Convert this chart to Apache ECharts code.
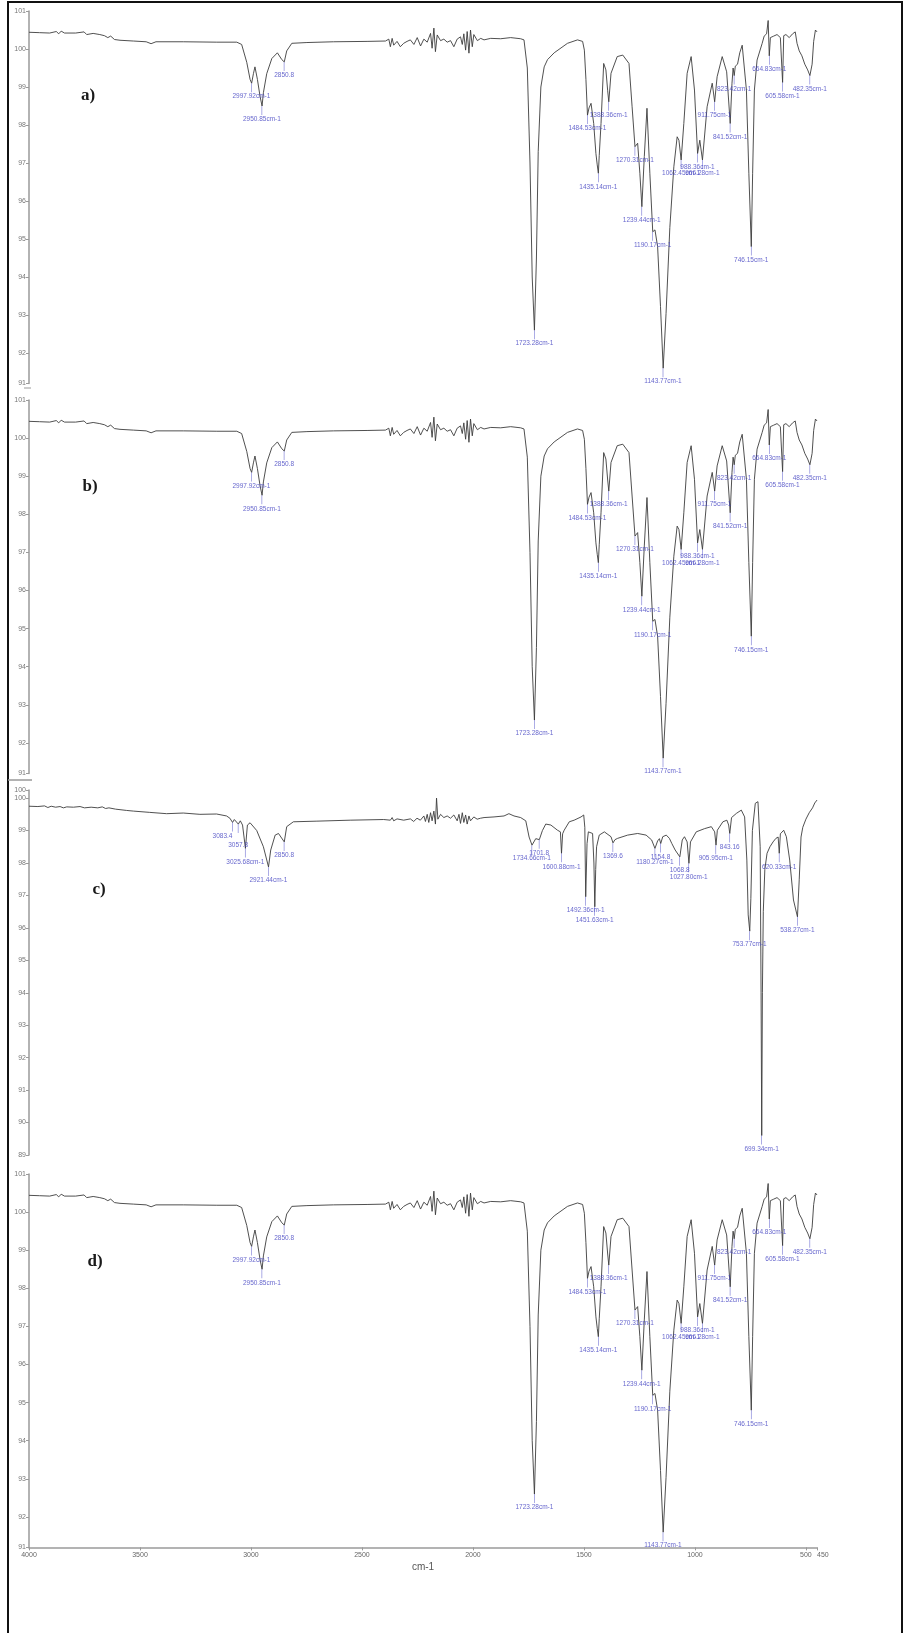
<!DOCTYPE html>
<html>
<head>
<meta charset="utf-8">
<title>FTIR spectra a-d</title>
<script src="https://cdn.jsdelivr.net/npm/echarts@6/dist/echarts.min.js"></script>
<style>
  html, body { margin: 0; padding: 0; background: #fff; }
  #chart { width: 905px; height: 1633px; }
</style>
</head>
<body>
<div id="chart"></div>
<script>
// panel letters, top to bottom
var panelNames = ['a)', 'b)', 'c)', 'd)'];

// spectrum of a), b) and d): [wavenumber cm-1, %T]
var pmmaSpectrum = [
  [4000, 100.44], [3952, 100.43], [3907, 100.42], [3877, 100.46], [3866, 100.40], [3855, 100.47],
  [3840, 100.42], [3790, 100.42], [3752, 100.45], [3740, 100.38], [3711, 100.41], [3681, 100.38],
  [3660, 100.35], [3645, 100.30], [3632, 100.34], [3615, 100.25], [3590, 100.23], [3530, 100.21],
  [3472, 100.19], [3450, 100.14], [3428, 100.19], [3305, 100.19], [3154, 100.18], [3064, 100.18],
  [3042, 100.12], [3019, 99.65], [3004, 99.20], [2997, 99.10], [2989, 99.35], [2982, 99.53],
  [2971, 99.20], [2959, 98.75], [2950, 98.50], [2944, 98.85], [2929, 99.35], [2906, 99.75],
  [2881, 99.90], [2861, 99.72], [2850, 99.66], [2839, 99.95], [2816, 100.15], [2748, 100.17],
  [2628, 100.19], [2477, 100.20], [2394, 100.21],
  [2387, 100.19], [2379, 100.26], [2372, 100.06], [2364, 100.28], [2357, 100.10], [2342, 100.20],
  [2327, 100.06], [2312, 100.15], [2297, 100.20], [2282, 100.24], [2266, 100.12], [2251, 100.30],
  [2236, 100.08], [2221, 100.26], [2206, 100.18], [2191, 100.41], [2184, 100.02], [2176, 100.55],
  [2169, 99.93], [2161, 100.37], [2146, 100.22], [2131, 100.26], [2116, 100.18], [2101, 100.22],
  [2086, 100.06], [2071, 100.26], [2056, 100.32], [2048, 100.12], [2041, 100.40], [2033, 99.97],
  [2026, 100.46], [2018, 99.89], [2011, 100.50], [2003, 100.06], [1996, 100.38], [1980, 100.22],
  [1965, 100.28], [1950, 100.24], [1920, 100.28], [1875, 100.27], [1830, 100.30], [1785, 100.27],
  [1770, 100.24], [1755, 99.50], [1743, 97.00], [1733, 94.00], [1723, 92.60], [1714, 94.50],
  [1706, 97.30], [1694, 99.00], [1679, 99.53], [1664, 99.72], [1634, 99.90], [1574, 100.15],
  [1529, 100.24], [1506, 100.20], [1498, 99.97], [1491, 99.20], [1484, 98.26], [1477, 98.45],
  [1468, 98.57], [1456, 98.04], [1446, 97.25], [1440, 96.95], [1435, 96.73], [1431, 97.20],
  [1423, 98.04], [1411, 99.62], [1401, 99.45], [1393, 98.90], [1388, 98.61], [1378, 99.36],
  [1350, 99.80], [1325, 99.84], [1297, 99.62], [1283, 98.48], [1270, 97.43], [1258, 97.52],
  [1248, 96.73], [1239, 95.85], [1228, 97.17], [1216, 98.44], [1203, 96.73], [1190, 95.19],
  [1180, 95.24], [1168, 94.80], [1155, 93.22], [1143, 91.60], [1130, 93.04], [1113, 95.30],
  [1095, 96.90], [1080, 97.69], [1072, 97.60], [1062, 97.08], [1050, 98.04], [1035, 99.36],
  [1017, 99.80], [1002, 98.92], [988, 97.25], [978, 97.60], [966, 97.08], [945, 98.48],
  [922, 99.10], [911, 98.61], [900, 99.27], [877, 99.80], [857, 99.40], [841, 98.04],
  [833, 99.10], [828, 99.50], [823, 99.30], [818, 99.55], [808, 99.60], [798, 99.90],
  [787, 100.10], [768, 98.92], [757, 96.73], [746, 94.80], [740, 96.73], [732, 98.92],
  [720, 99.71], [697, 100.15], [688, 100.34], [677, 100.40], [670, 100.75], [665, 99.82],
  [660, 100.30], [645, 100.34], [630, 100.38], [615, 100.30], [608, 100.35], [605, 99.12],
  [600, 100.35], [590, 100.38], [575, 100.30], [560, 100.40], [548, 100.45], [540, 100.15],
  [530, 99.95], [518, 99.82], [505, 99.60], [492, 99.45], [482, 99.30], [472, 99.60],
  [465, 100.20], [457, 100.50], [450, 100.45]
];
var pmmaPeakWave = [2997.92, 2950.85, 2850.8, 1723.28, 1484.53, 1435.14, 1388.36, 1270.31, 1239.44,
  1190.17, 1143.77, 1062.45, 988.36, 966.28, 911.75, 841.52, 823.42, 746.15, 664.83, 605.58, 482.35];
var pmmaPeakText = ['2997.92cm-1', '2950.85cm-1', '2850.8', '1723.28cm-1', '1484.53cm-1', '1435.14cm-1',
  '1388.36cm-1', '1270.31cm-1', '1239.44cm-1', '1190.17cm-1', '1143.77cm-1', '1062.45cm-1', '988.36cm-1',
  '966.28cm-1', '911.75cm-1', '841.52cm-1', '823.42cm-1', '746.15cm-1', '664.83cm-1', '605.58cm-1', '482.35cm-1'];

// spectrum of c)
var psSpectrum = [
  [4000, 99.75], [3960, 99.74], [3930, 99.76], [3915, 99.71], [3900, 99.75], [3880, 99.72],
  [3860, 99.74], [3845, 99.70], [3830, 99.73], [3800, 99.72], [3770, 99.74], [3750, 99.70],
  [3720, 99.72], [3690, 99.70], [3670, 99.73], [3655, 99.68], [3640, 99.70], [3610, 99.66],
  [3560, 99.62], [3530, 99.60], [3456, 99.56], [3380, 99.52], [3305, 99.54], [3230, 99.50],
  [3155, 99.51], [3110, 99.45], [3095, 99.38], [3083, 99.25], [3075, 99.34], [3066, 99.30],
  [3057, 99.20], [3048, 99.30], [3038, 99.17], [3025, 98.45], [3016, 99.17], [3004, 99.24],
  [2974, 99.00], [2944, 98.50], [2921, 97.88], [2911, 98.40], [2891, 98.86], [2876, 98.91],
  [2850, 98.65], [2839, 99.12], [2809, 99.27], [2703, 99.29], [2553, 99.32], [2402, 99.34],
  [2372, 99.32], [2364, 99.40], [2357, 99.30], [2342, 99.36], [2312, 99.32], [2282, 99.36],
  [2267, 99.28], [2252, 99.38], [2237, 99.32], [2221, 99.45], [2214, 99.28], [2206, 99.50],
  [2199, 99.25], [2191, 99.55], [2184, 99.30], [2176, 99.60], [2169, 99.20], [2164, 100.00],
  [2158, 99.35], [2146, 99.50], [2131, 99.40], [2116, 99.45], [2101, 99.38], [2086, 99.48],
  [2071, 99.30], [2063, 99.50], [2056, 99.22], [2048, 99.55], [2041, 99.25], [2033, 99.48],
  [2026, 99.20], [2018, 99.45], [2011, 99.30], [1996, 99.42], [1981, 99.35], [1966, 99.38],
  [1950, 99.40], [1905, 99.42], [1860, 99.45], [1838, 99.52], [1815, 99.45], [1785, 99.40],
  [1762, 99.30], [1747, 98.80], [1734, 98.55], [1717, 98.75], [1701, 98.72], [1687, 99.00],
  [1672, 99.20], [1649, 99.17], [1619, 99.01], [1606, 98.96], [1601, 98.30], [1596, 98.90],
  [1589, 99.01], [1583, 98.95], [1566, 99.27], [1544, 99.32], [1513, 99.42], [1501, 99.48],
  [1496, 99.10], [1492, 96.96], [1486, 98.60], [1480, 98.96], [1471, 99.01], [1461, 98.91],
  [1455, 98.00], [1451, 96.65], [1447, 97.80], [1443, 98.50], [1431, 98.86], [1408, 98.96],
  [1378, 98.81], [1369, 98.62], [1360, 98.72], [1348, 98.76], [1303, 98.86], [1258, 98.91],
  [1220, 98.86], [1195, 98.71], [1180, 98.45], [1168, 98.68], [1160, 98.75], [1154, 98.60],
  [1145, 98.81], [1129, 98.86], [1115, 98.76], [1104, 98.60], [1089, 98.40], [1068, 98.19],
  [1057, 98.71], [1047, 98.81], [1035, 98.65], [1027, 97.99], [1020, 98.65], [994, 98.96],
  [956, 99.06], [926, 99.12], [911, 98.96], [905, 98.55], [899, 99.01], [874, 99.27],
  [856, 99.32], [848, 99.17], [843, 98.91], [835, 99.40], [813, 99.53], [791, 99.63],
  [776, 99.42], [766, 98.09], [760, 96.40], [753, 95.90], [748, 96.90], [741, 99.00],
  [728, 99.84], [716, 99.89], [706, 98.50], [702, 94.00], [699, 89.60], [696, 94.00],
  [692, 96.50], [685, 97.80], [675, 98.30], [662, 98.50], [648, 98.65], [635, 98.76],
  [625, 98.80], [620, 98.30], [615, 98.90], [600, 99.01], [588, 98.81], [573, 98.09],
  [556, 96.86], [538, 96.34], [530, 97.50], [522, 98.80], [514, 99.10], [500, 99.35],
  [485, 99.55], [470, 99.70], [460, 99.85], [450, 99.94]
];
var psPeakWave = [3083.4, 3057.8, 3025.68, 2921.44, 2850.8, 1734.66, 1701.8, 1600.88, 1492.36, 1451.63,
  1369.6, 1180.27, 1154.8, 1068.8, 1027.80, 905.95, 843.16, 753.77, 699.34, 620.33, 538.27];
var psPeakText = ['3083.4', '3057.8', '3025.68cm-1', '2921.44cm-1', '2850.8', '1734.66cm-1', '1701.8',
  '1600.88cm-1', '1492.36cm-1', '1451.63cm-1', '1369.6', '1180.27cm-1', '1154.8', '1068.8', '1027.80cm-1',
  '905.95cm-1', '843.16', '753.77cm-1', '699.34cm-1', '620.33cm-1', '538.27cm-1'];

// layout of the four stacked plots (pixels) and their y ranges
var panels = [
  { top: 11, height: 372.4, min: 91.2, max: 101, split: 10, lx: 88, ly: 96 },
  { top: 400, height: 373.4, min: 91.2, max: 101, split: 10, lx: 90, ly: 487 },
  { top: 790, height: 365, min: 89, max: 100.25, split: 11, lx: 99, ly: 890 },
  { top: 1174, height: 373.4, min: 91.2, max: 101, split: 10, lx: 95, ly: 1262 }
];
var panelSpectra = [pmmaSpectrum, pmmaSpectrum, psSpectrum, pmmaSpectrum];
var panelPeakWave = [pmmaPeakWave, pmmaPeakWave, psPeakWave, pmmaPeakWave];
var panelPeakText = [pmmaPeakText, pmmaPeakText, psPeakText, pmmaPeakText];

// T of the curve point closest to a wavenumber
function curveAt(spectrum, w) {
  var best = spectrum[0];
  spectrum.forEach(function (p) {
    if (Math.abs(p[0] - w) < Math.abs(best[0] - w)) best = p;
  });
  return best[1];
}

// peak markers; two labels that would sit on top of each other get staggered
function peakPoints(waves, texts, spectrum) {
  var ts = waves.map(function (w) { return curveAt(spectrum, w); });
  return waves.map(function (w, i) {
    var item = { name: texts[i], value: [w, ts[i]] };
    var close = function (j) {
      return j >= 0 && j < waves.length && Math.abs(waves[j] - w) < 30 && Math.abs(ts[j] - ts[i]) < 0.1;
    };
    if (close(i + 1)) item.label = { align: 'right' };
    else if (close(i - 1)) item.label = { distance: 9 };
    return item;
  });
}

var grids = [], xAxes = [], yAxes = [], series = [], graphics = [];

panels.forEach(function (p, i) {
  var last = i === panels.length - 1;
  grids.push({ left: 29, width: 788, top: p.top, height: p.height });
  xAxes.push({
    type: 'value', gridIndex: i, min: 450, max: 4000, inverse: true, splitNumber: 7,
    show: last,
    name: 'cm-1', nameLocation: 'middle', nameGap: 15,
    nameTextStyle: { fontSize: 10, color: '#555', fontFamily: 'Liberation Sans' },
    axisLine: { lineStyle: { color: '#9a9a9a', width: 1.5 } },
    axisTick: { length: 3, lineStyle: { color: '#9a9a9a' } },
    axisLabel: {
      fontSize: 7, color: '#666', margin: 4, fontFamily: 'Liberation Sans',
      showMinLabel: true, showMaxLabel: true, hideOverlap: false,
      alignMinLabel: 'left',
      formatter: function (v) { return String(v); }
    },
    splitLine: { show: false }
  });
  yAxes.push({
    type: 'value', gridIndex: i, min: p.min, max: p.max, splitNumber: p.split,
    axisLine: { show: true, lineStyle: { color: '#9a9a9a', width: 1.5 } },
    axisTick: { show: true, length: 3, lineStyle: { color: '#9a9a9a' } },
    axisLabel: {
      fontSize: 7, color: '#777', margin: 3, showMinLabel: true, showMaxLabel: true,
      hideOverlap: false, fontFamily: 'Liberation Sans',
      formatter: function (v) { return Math.round(v); }
    },
    splitLine: { show: false }
  });
  series.push({
    type: 'line', xAxisIndex: i, yAxisIndex: i,
    data: panelSpectra[i],
    showSymbol: false, silent: true,
    lineStyle: { color: '#3c3c3c', width: 0.9 },
    z: 2
  });
  series.push({
    type: 'scatter', xAxisIndex: i, yAxisIndex: i,
    data: peakPoints(panelPeakWave[i], panelPeakText[i], panelSpectra[i]),
    symbol: 'rect', symbolSize: [0.6, 9], symbolOffset: [0, 4.5],
    itemStyle: { color: '#5050c8' },
    silent: true,
    label: {
      show: true, position: 'bottom', distance: 1,
      formatter: '{b}', fontSize: 6.5, color: '#4040c0', fontFamily: 'Liberation Sans'
    },
    z: 3
  });
  graphics.push({
    type: 'text', x: p.lx, y: p.ly,
    style: {
      text: panelNames[i], fontSize: 17, fontWeight: 'bold', fontFamily: 'Liberation Serif',
      fill: '#1a1a1a', align: 'center', verticalAlign: 'middle'
    }
  });
});

// outer frame and the little joins between the stacked plots
graphics.push({ type: 'rect', shape: { x: 8, y: 2, width: 894, height: 1700 }, style: { fill: 'none', stroke: '#111', lineWidth: 2 }, silent: true });
graphics.push({ type: 'line', shape: { x1: 24, y1: 388, x2: 31, y2: 388 }, style: { stroke: '#999', lineWidth: 1 } });
graphics.push({ type: 'line', shape: { x1: 8, y1: 780, x2: 32, y2: 780 }, style: { stroke: '#999', lineWidth: 1.5 } });

var chart = echarts.init(document.getElementById('chart'), null, { renderer: 'canvas' });
chart.setOption({
  animation: false,
  backgroundColor: '#fff',
  grid: grids,
  xAxis: xAxes,
  yAxis: yAxes,
  series: series,
  graphic: graphics
});
</script>
</body>
</html>
